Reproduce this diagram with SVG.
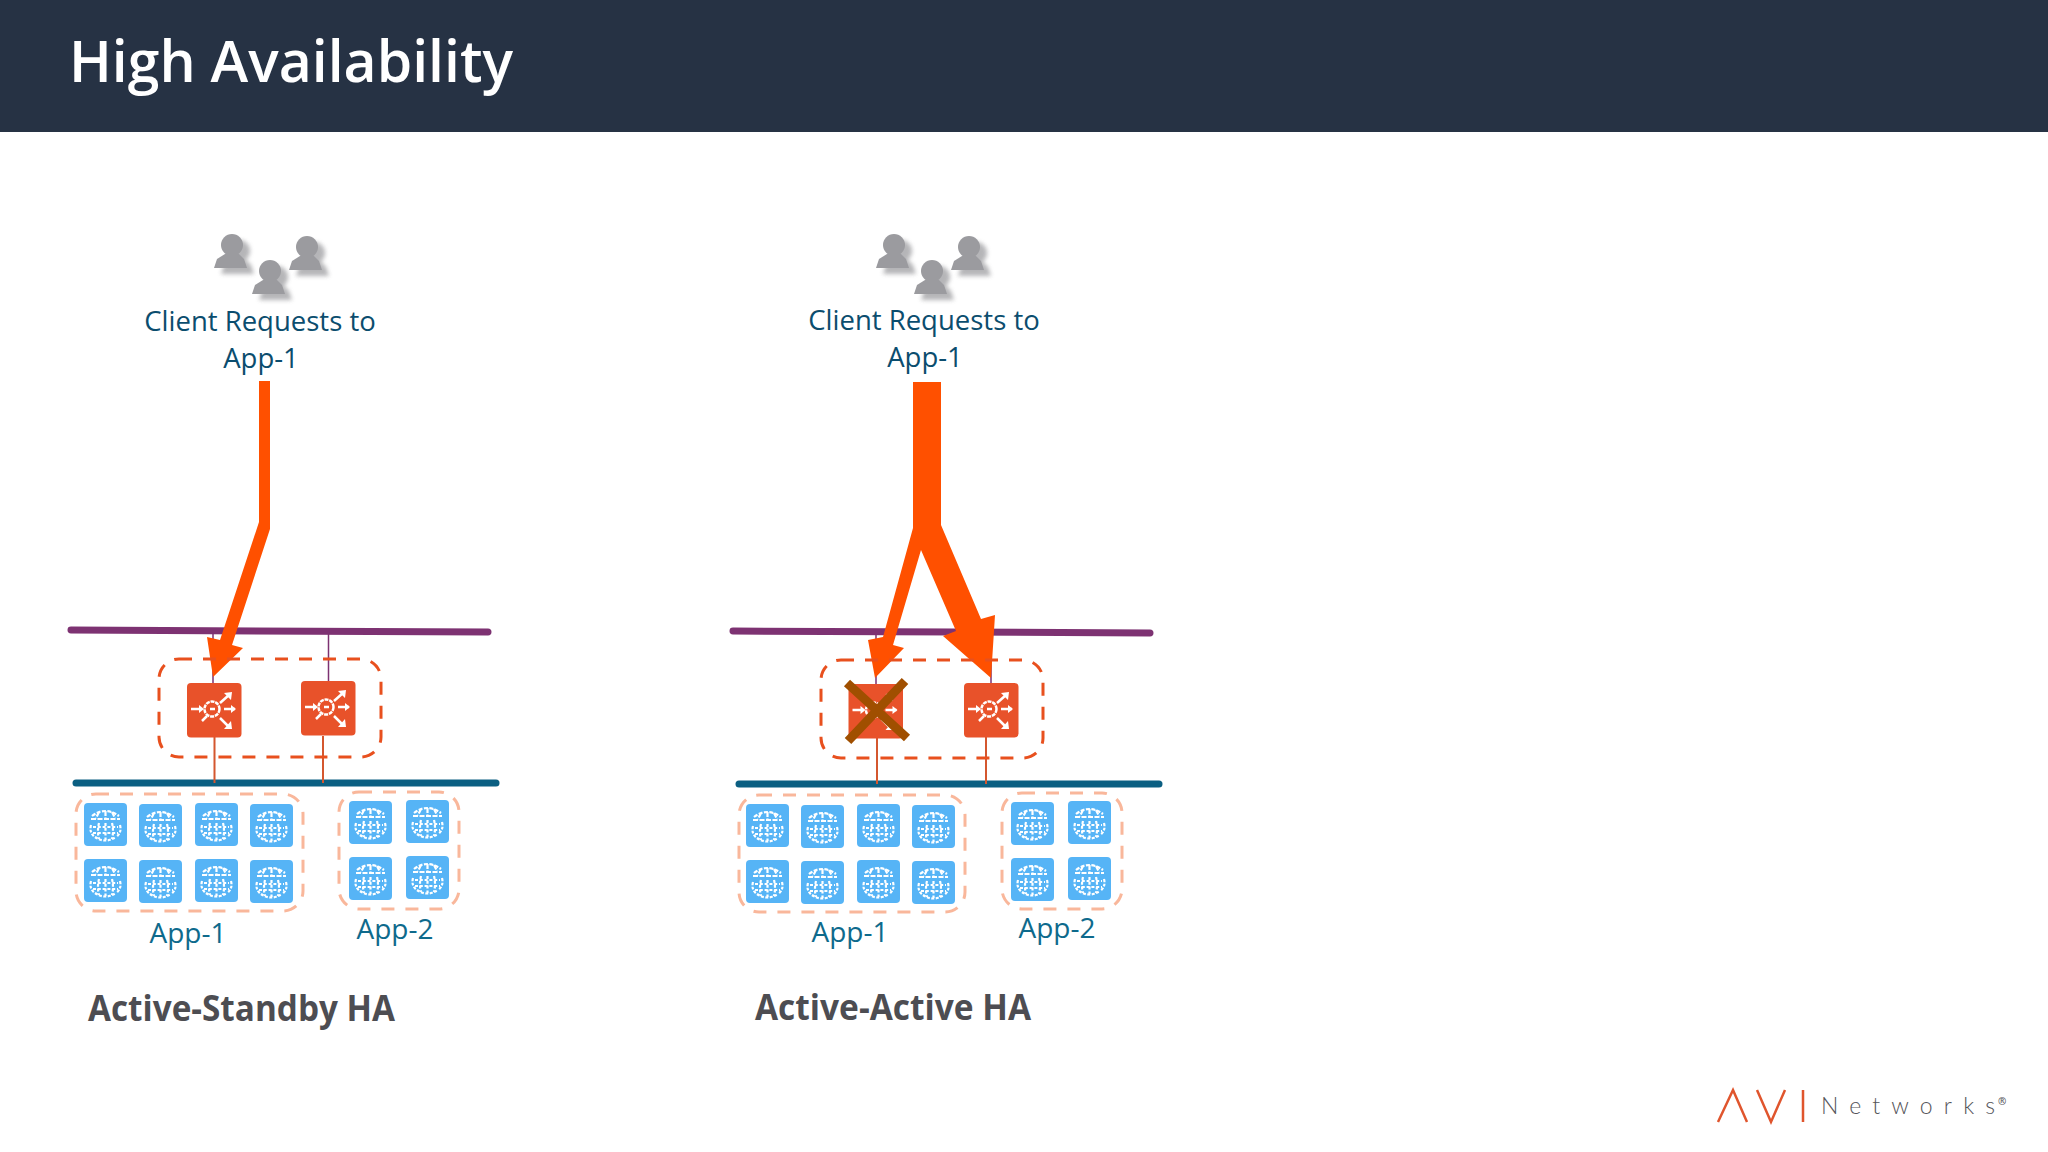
<svg xmlns="http://www.w3.org/2000/svg" width="2048" height="1152" viewBox="0 0 2048 1152">
<style>
text{font-family:"Open Sans","Noto Sans","Liberation Sans",sans-serif}
.client{font-size:27.5px;fill:#0b4d6e;text-anchor:middle}
.app{font-size:28px;fill:#0e6a8c;text-anchor:middle}
.ha{font-size:35px;font-weight:700;fill:#4d4d52}
.purple{stroke:#7d3272;stroke-width:7;stroke-linecap:round;fill:none}
.teal{stroke:#0b5f82;stroke-width:7;stroke-linecap:round;fill:none}
.thinp{stroke:#7d3272;stroke-width:1.5;fill:none}
.thino{stroke:#d4572f;stroke-width:2;fill:none}
.dash1{fill:none;stroke:#e8501e;stroke-width:3;stroke-dasharray:13 11}
.dash2{fill:none;stroke:#f9b79b;stroke-width:3;stroke-dasharray:13 11}
.arrow{fill:#ff5000}
.xm{stroke:#a04f00;stroke-width:9;fill:none}
</style>
<defs>
<filter id="bl" x="-30%" y="-30%" width="160%" height="160%"><feGaussianBlur stdDeviation="2.2"/></filter>
<g id="person-shape"><circle cx="18" cy="11" r="11"/><path d="M0 34 L3 25 L11 20 L25 20 L30 25 L33 34 Z"/></g>
<g id="person"><use href="#person-shape" x="7" y="6" fill="#a9a9ac" opacity=".85" filter="url(#bl)"/><use href="#person-shape" fill="#9b9b9f"/></g>
<g id="people"><use href="#person" x="214" y="234"/><use href="#person" x="252" y="260"/><use href="#person" x="289" y="236"/></g>
<g id="globe"><rect width="43" height="43" rx="4" fill="#56b4f6"/>
<g fill="none" stroke="#fff" stroke-width="2.200">
<path d="M8 13 Q21 3 35 13" stroke-dasharray="4 1.500"/>
<path d="M7 16 H36 M21.500 8 V16 M15 9 L12 15 M28 9 L31 15" stroke-dasharray="5 1.500"/>
<path d="M7 22 Q5 30 11 34 M36 22 Q38 30 32 34 M11 34 Q21 41 32 34" stroke-dasharray="3 1.500"/>
<path d="M9 24 H34 M9 30 H34 M15 20 Q13 28 15 36 M21.500 20 V37 M28 20 Q30 28 28 36" stroke-dasharray="3 1.800"/>
</g></g>
<g id="lb"><rect width="54.500" height="54.500" rx="4" fill="#e8522a"/>
<g fill="none" stroke="#fff" stroke-width="2.500">
<circle cx="25" cy="26" r="7.500" stroke-dasharray="4 .8"/>
<path d="M23 26 H28 M4 26 H14 M37 26 H48 M33 20 L42 12 M33 35 L42 44 M20 33 L15 38"/>
</g>
<g fill="#fff"><path d="M12 22 L17 26 L12 30Z M44 22 L49 26 L44 30Z M37 10 L45 9 L44 17Z M37 46 L45 46 L44 38Z"/></g></g>
</defs>

<rect width="2048" height="1152" fill="#fff"/>
<g id="header"><rect width="2048" height="132" fill="#263244"/>
<text x="69" y="82" font-size="58" font-weight="600" fill="#fff" textLength="444" lengthAdjust="spacingAndGlyphs">High Availability</text></g>

<g id="connectors">
<path class="purple" d="M71 630 L488 632"/>
<path class="teal" d="M76 783 H496"/>
<path class="thinp" d="M213 632 V683 M328.500 632 V681"/>
<path class="thino" d="M214.500 737 V783 M323 736 V783"/>
<polygon class="arrow" points="259,381 270,381 270,529 232,645 243,648 213,677 207,637 220,640 259,522"/>
<path class="purple" d="M733 631 L1150 633"/>
<path class="teal" d="M739 784 H1159"/>
<path class="thinp" d="M876 633 V684 M991 633 V683"/>
<path class="thino" d="M877 738 V784 M986 737 V784"/>
<polygon class="arrow" points="913,382 941,382 941,525 981,619 995,615 991,678 943,636 956,631 921,550 893,645 904,648 875,678 868,640 883,637 913,528"/>
</g>

<g id="clients-a"><use href="#people"/>
<text class="client" x="260" y="331">Client Requests to</text>
<text class="client" x="261" y="368">App-1</text></g>
<g id="clients-b"><use href="#people" x="662"/>
<text class="client" x="924" y="330">Client Requests to</text>
<text class="client" x="925" y="367">App-1</text></g>

<g id="lb-group-a">
<rect class="dash1" x="159" y="659" width="222" height="98" rx="20"/>
<use href="#lb" x="187" y="683"/><use href="#lb" x="301" y="681"/></g>
<g id="lb-group-b">
<rect class="dash1" x="821" y="660" width="222" height="98" rx="20"/>
<use href="#lb" x="848.500" y="684"/><use href="#lb" x="964" y="683"/>
<path class="xm" d="M847 683 L907 738 M905 681 L848 741"/></g>

<g id="app1-a">
<rect class="dash2" x="76" y="794" width="227" height="117" rx="20"/>
<use href="#globe" x="84" y="803"/><use href="#globe" x="139" y="804"/><use href="#globe" x="195" y="803"/><use href="#globe" x="250" y="804"/>
<use href="#globe" x="84" y="859"/><use href="#globe" x="139" y="860"/><use href="#globe" x="195" y="859"/><use href="#globe" x="250" y="860"/>
<text class="app" x="188" y="943">App-1</text></g>
<g id="app2-a">
<rect class="dash2" x="339" y="792" width="120" height="117" rx="20"/>
<use href="#globe" x="349" y="801"/><use href="#globe" x="406" y="800"/>
<use href="#globe" x="349" y="857"/><use href="#globe" x="406" y="856"/>
<text class="app" x="395" y="939">App-2</text></g>
<text class="ha" x="88" y="1021" textLength="307" lengthAdjust="spacingAndGlyphs">Active-Standby HA</text>

<g id="app1-b">
<rect class="dash2" x="739" y="795" width="226" height="117" rx="20"/>
<use href="#globe" x="746" y="804"/><use href="#globe" x="801" y="805"/><use href="#globe" x="857" y="804"/><use href="#globe" x="912" y="805"/>
<use href="#globe" x="746" y="860"/><use href="#globe" x="801" y="861"/><use href="#globe" x="857" y="860"/><use href="#globe" x="912" y="861"/>
<text class="app" x="850" y="942">App-1</text></g>
<g id="app2-b">
<rect class="dash2" x="1002" y="793" width="120" height="116" rx="20"/>
<use href="#globe" x="1011" y="802"/><use href="#globe" x="1068" y="801"/>
<use href="#globe" x="1011" y="858"/><use href="#globe" x="1068" y="857"/>
<text class="app" x="1057" y="938">App-2</text></g>
<text class="ha" x="755" y="1020" textLength="276" lengthAdjust="spacingAndGlyphs">Active-Active HA</text>

<g id="logo">
<path d="M1718 1122 L1733 1090 L1747 1122 M1757 1090 L1771 1122 L1785 1090 M1803 1090 V1122" fill="none" stroke="#e0552d" stroke-width="2.500"/>
<text x="1821" y="1114" font-size="23" fill="#55555a" textLength="174" lengthAdjust="spacing" style="font-family:Lato,'Open Sans',sans-serif;font-weight:300">Networks</text>
<text x="1998" y="1105" font-size="10" font-weight="600" fill="#55555a">®</text>
</g>
</svg>
